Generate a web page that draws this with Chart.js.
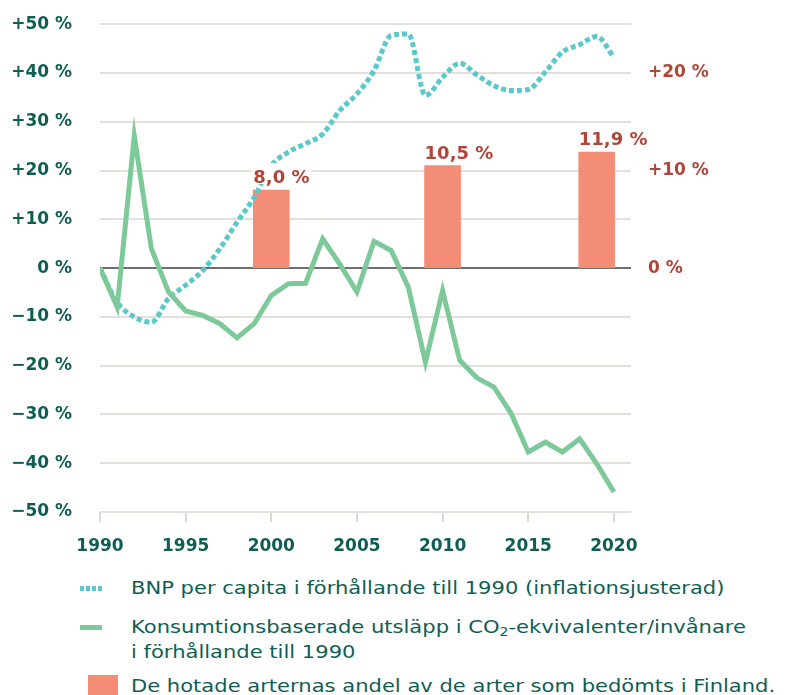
<!DOCTYPE html>
<html>
<head>
<meta charset="utf-8">
<script src="https://cdn.jsdelivr.net/npm/chart.js@4"></script>
<style>
  body { margin: 0; background: #fff; width: 793px; height: 695px; overflow: hidden; position: relative; font-family: "DejaVu Sans", sans-serif; }
  #wrap { position: absolute; left: 0; top: -14px; width: 793px; height: 569px; }
  .legend { position: absolute; left: 0; top: 0; color: #0f5e54; font-size: 18px; }
  .item { position: absolute; left: 131px; white-space: nowrap; line-height: 25px; transform: scaleX(1.17); transform-origin: left center; }
  .sym { position: absolute; }
  sub { font-size: 12px; vertical-align: -3px; line-height: 0; }
</style>
</head>
<body>
<div id="wrap"><canvas id="chart"></canvas></div>
<div class="legend">
  <div class="sym" style="left:80px; top:586px; width:22px; height:5px; background: repeating-linear-gradient(90deg, #5bc8cc 0 4px, transparent 4px 6px);"></div>
  <div class="item" style="top:575px;">BNP per capita i förhållande till 1990 (inflationsjusterad)</div>
  <div class="sym" style="left:80px; top:625px; width:22px; height:5px; background:#7ec99a;"></div>
  <div class="item" style="top:614px;">Konsumtionsbaserade utsläpp i CO<sub>2</sub>-ekvivalenter/invånare<br>i förhållande till 1990</div>
  <div class="sym" style="left:88px; top:675px; width:30px; height:22px; background:#f48d75;"></div>
  <div class="item" style="top:673px;">De hotade arternas andel av de arter som bedömts i Finland.</div>
</div>
<script>
// data
const years = [1990, 1991, 1992, 1993, 1994, 1995, 1996, 1997, 1998, 1999,
  2000, 2001, 2002, 2003, 2004, 2005, 2006, 2007, 2008, 2009,
  2010, 2011, 2012, 2013, 2014, 2015, 2016, 2017, 2018, 2019, 2020];

// BNP per capita, change vs 1990 (%)
const bnp = [0, -7.0, -10.0, -11.1, -6.2, -3.5, -0.5, 4.0, 9.4, 14.5,
  21.0, 23.8, 25.5, 27.5, 32.3, 35.7, 40.5, 47.7, 48.0, 35.4,
  39.1, 42.0, 39.6, 37.4, 36.4, 36.6, 40.2, 44.3, 45.8, 47.5, 43.2];

// consumption based emissions per inhabitant, change vs 1990 (%)
const emissions = [0, -8.0, 27.1, 4.0, -4.9, -8.8, -9.7, -11.4, -14.3, -11.4,
  -5.6, -3.2, -3.1, 6.0, 0.8, -4.9, 5.5, 3.6, -3.9, -19.3,
  -4.6, -18.9, -22.5, -24.4, -29.8, -37.7, -35.7, -37.7, -35.0, -40.1, -45.9];

// share of threatened species (%)
const barYears = [2000, 2010, 2019];
const threatened = [8.0, 10.5, 11.9];
const barLabels = ["8,0 %", "10,5 %", "11,9 %"];

const leftTicks = [-50, -40, -30, -20, -10, 0, 10, 20, 30, 40, 50];
const rightTicks = [0, 10, 20];
const xTicks = [1990, 1995, 2000, 2005, 2010, 2015, 2020];

const tealText = "#0f5e54";
const redText = "#b0463a";
const fontFamily = "DejaVu Sans";

function pct(v) {
  if (v > 0) return "+" + v + " %";
  if (v < 0) return "−" + Math.abs(v) + " %";
  return "0 %";
}

// draws the value labels on top of the bars
const barLabelPlugin = {
  id: "barLabels",
  afterDatasetsDraw(chart) {
    const ctx = chart.ctx;
    const meta = chart.getDatasetMeta(0);
    ctx.save();
    ctx.font = "bold 18px '" + fontFamily + "'";
    ctx.textAlign = "left";
    ctx.textBaseline = "alphabetic";
    meta.data.forEach((bar, i) => {
      const left = bar.x - bar.width / 2;
      const w = ctx.measureText(barLabels[i]).width;
      ctx.fillStyle = "#fff";
      ctx.fillRect(left - 2, bar.y - 27, w + 4, 21);
      ctx.fillStyle = redText;
      ctx.fillText(barLabels[i], left, bar.y - 7);
    });
    ctx.restore();
  },
};

new Chart(document.getElementById("chart"), {
  type: "line",
  data: {
    labels: years,
    datasets: [
      {
        type: "bar",
        label: "De hotade arternas andel",
        data: barYears.map((y, i) => ({ x: y, y: threatened[i] })),
        backgroundColor: "#f48d75",
        barThickness: 36,
        yAxisID: "y2",
        order: 3,
      },
      {
        label: "Konsumtionsbaserade utsläpp",
        data: years.map((y, i) => ({ x: y, y: emissions[i] })),
        borderColor: "#7ec99a",
        borderWidth: 5,
        pointRadius: 0,
        tension: 0,
        borderJoinStyle: "miter",
        yAxisID: "y",
        order: 1,
      },
      {
        label: "BNP per capita",
        data: years.map((y, i) => ({ x: y, y: bnp[i] })),
        borderColor: "#5bc8cc",
        borderWidth: 5,
        borderDash: [5, 3],
        pointRadius: 0,
        cubicInterpolationMode: "monotone",
        yAxisID: "y",
        order: 2,
      },
    ],
  },
  options: {
    responsive: true,
    maintainAspectRatio: false,
    animation: false,
    layout: { padding: { top: 12, left: 0, right: 0, bottom: 0 } },
    plugins: {
      legend: { display: false },
      tooltip: { enabled: false },
    },
    scales: {
      x: {
        type: "linear",
        offset: false,
        min: 1990,
        max: 2021,
        afterBuildTicks: (axis) => {
          axis.ticks = xTicks.map((v) => ({ value: v }));
        },
        afterFit: (axis) => {
          axis.height = 43;
        },
        ticks: {
          callback: (v) => String(v),
          color: tealText,
          font: { family: fontFamily, size: 17, weight: "bold" },
          padding: 14,
          maxRotation: 0,
        },
        grid: {
          offset: false,
          drawOnChartArea: false,
          drawTicks: true,
          tickLength: 10,
          color: "#dcd9d0",
          lineWidth: 2,
        },
        border: { display: false },
      },
      y: {
        position: "left",
        min: -50,
        max: 50,
        afterBuildTicks: (axis) => {
          axis.ticks = leftTicks.map((v) => ({ value: v }));
        },
        afterFit: (axis) => {
          axis.width = 100;
        },
        ticks: {
          callback: (v) => pct(v),
          color: tealText,
          font: { family: fontFamily, size: 17, weight: "bold" },
          padding: 28,
        },
        grid: {
          drawTicks: false,
          color: (c) => (c.tick && c.tick.value === 0 ? "#6e6e6e" : "#e2e0d9"),
          lineWidth: 2,
        },
        border: { display: false },
      },
      y2: {
        position: "right",
        min: -25,
        max: 25,
        afterBuildTicks: (axis) => {
          axis.ticks = rightTicks.map((v) => ({ value: v }));
        },
        afterFit: (axis) => {
          axis.width = 162;
        },
        ticks: {
          callback: (v) => pct(v),
          color: redText,
          font: { family: fontFamily, size: 17, weight: "bold" },
          padding: 17,
        },
        grid: { drawOnChartArea: false, drawTicks: false },
        border: { display: false },
      },
    },
  },
  plugins: [barLabelPlugin],
});
</script>
</body>
</html>
